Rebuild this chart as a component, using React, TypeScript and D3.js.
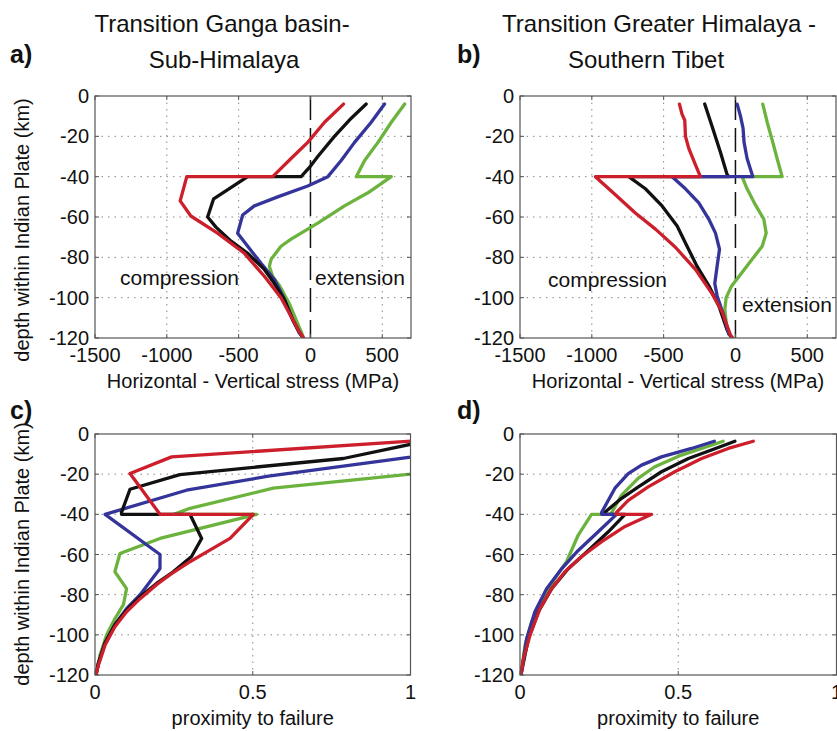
import React from 'react';
import * as d3 from 'd3';

type P = [number, number];

const depthTicks = [0, -20, -40, -60, -80, -100, -120];
const stressTicks = [-1500, -1000, -500, 0, 500];
const stressGrid = [-1000, -500, 500];
const proxTicks = [0, 0.5, 1];
const proxGrid = [0.5];
const depthGrid = [-20, -40, -60, -80, -100];

const titleA = ['Transition Ganga basin-', 'Sub-Himalaya'];
const titleB = ['Transition Greater Himalaya -', 'Southern Tibet'];
const stressLabel = 'Horizontal - Vertical stress (MPa)';
const proxLabel = 'proximity to failure';
const depthLabel = 'depth within Indian Plate (km)';

// Panel a: [stress MPa, depth km]
const aGreen: P[] = [[656,-4],[563,-13],[470,-23],[377,-32],[319,-40],[563,-40],[400,-48],[237,-54.5],[51,-63],[-135,-71],[-205,-74.5],[-274,-81],[-286,-84.5],[-263,-89.5],[-216,-94],[-147,-103],[-88,-113],[-53,-119]];
const aBlue: P[] = [[516,-4],[423,-13],[307,-23],[214,-32],[121,-40],[-19,-44.6],[-228,-50],[-391,-54.5],[-472,-59],[-507,-68],[-437,-74.5],[-344,-83],[-251,-91],[-193,-99],[-123,-111],[-77,-117.6],[-60,-119]];
const aBlack: P[] = [[388,-4],[284,-11],[167,-20],[51,-30],[-7,-35.4],[-65,-40],[-437,-40],[-674,-51],[-716,-60],[-658,-65],[-553,-72],[-437,-78],[-321,-86],[-251,-93],[-181,-101],[-123,-111],[-77,-117],[-60,-119]];
const aRed: P[] = [[230,-4],[98,-13],[-19,-23],[-135,-31],[-263,-40],[-861,-40],[-907,-52],[-833,-59.5],[-647,-68],[-460,-78],[-321,-89.4],[-205,-100],[-123,-111],[-77,-117],[-47,-120]];

// Panel b
const bGreen: P[] = [[190,-4],[221,-13],[260,-23],[290,-31],[325,-40],[46,-40],[81,-46],[139,-54],[197,-61],[214,-68],[186,-74.5],[116,-81],[35,-88.5],[-28,-94.4],[-65,-100],[-74,-106],[-63,-113],[-46,-118]];
const bBlue: P[] = [[12,-4],[35,-10],[53,-16],[60,-23],[81,-31],[121,-40],[-441,-40],[-348,-46],[-255,-53],[-186,-61],[-139,-68],[-111,-76],[-128,-84.5],[-144,-93],[-128,-99],[-81,-109],[-46,-118]];
const bBlack: P[] = [[-214,-4],[-163,-15],[-104,-28],[-58,-39],[-46,-40],[-743,-40],[-627,-46],[-511,-54.5],[-406,-64.5],[-337,-74.5],[-267,-84.5],[-186,-94],[-116,-104],[-58,-116],[-35,-119]];
const bRed: P[] = [[-390,-4],[-372,-9],[-353,-12],[-348,-20],[-325,-26],[-279,-34],[-244,-40],[-975,-40],[-836,-49],[-697,-58],[-557,-66],[-418,-75],[-279,-86],[-163,-98],[-93,-107],[-35,-118.5],[-19,-120]];

// Panel c: [proximity, depth]
const cGreen: P[] = [[1.06,-10],[1.0,-20],[0.565,-27],[0.301,-37],[0.25,-40],[0.512,-40],[0.206,-52],[0.079,-59.5],[0.063,-68.6],[0.1,-77],[0.09,-85],[0.063,-92],[0.037,-100],[0.016,-110],[0.003,-120]];
const cBlue: P[] = [[1.08,-4],[1.0,-11.5],[0.55,-21],[0.29,-28],[0.032,-40],[0.206,-60],[0.206,-67],[0.143,-80],[0.1,-87],[0.063,-95],[0.032,-104],[0.011,-114],[0.003,-120]];
const cBlack: P[] = [[1.02,-4.5],[0.787,-12.2],[0.269,-20.2],[0.111,-27.5],[0.084,-39],[0.084,-40],[0.301,-40],[0.338,-52],[0.306,-61],[0.248,-68.6],[0.195,-74.4],[0.143,-81],[0.1,-87.7],[0.063,-95],[0.032,-104],[0.011,-114],[0.003,-120]];
const cRed: P[] = [[1.02,-3.4],[0.243,-11.4],[0.111,-19.7],[0.206,-40],[0.502,-40],[0.428,-52],[0.364,-57.8],[0.301,-63.6],[0.238,-70],[0.195,-75],[0.143,-82],[0.1,-88.5],[0.063,-96],[0.032,-105],[0.011,-115],[0.003,-120]];

// Panel d
const dGreen: P[] = [[0.642,-3.6],[0.574,-7.2],[0.51,-10.5],[0.426,-16.3],[0.374,-22],[0.321,-30.4],[0.29,-39],[0.29,-40],[0.226,-40],[0.184,-50.3],[0.147,-63.6],[0.11,-72],[0.068,-83.5],[0.037,-93.4],[0.016,-105],[0.003,-120]];
const dBlack: P[] = [[0.679,-3.6],[0.605,-8],[0.532,-12.2],[0.447,-18.8],[0.374,-26.3],[0.321,-32],[0.268,-39],[0.268,-40],[0.332,-40],[0.279,-48.7],[0.216,-58],[0.153,-67],[0.1,-77],[0.058,-88.5],[0.026,-102],[0.003,-120]];
const dBlue: P[] = [[0.614,-3.6],[0.542,-7.2],[0.447,-11.4],[0.384,-15.5],[0.342,-19.7],[0.3,-27],[0.258,-39],[0.258,-40],[0.305,-40],[0.247,-48.7],[0.184,-58],[0.132,-67],[0.084,-77],[0.047,-88.5],[0.021,-102],[0.003,-120]];
const dRed: P[] = [[0.737,-3.6],[0.658,-7.2],[0.574,-12.2],[0.489,-18.8],[0.405,-26.3],[0.342,-33],[0.305,-39],[0.305,-40],[0.416,-40],[0.332,-46],[0.258,-53.6],[0.195,-61],[0.142,-68.6],[0.1,-77],[0.063,-87],[0.032,-100],[0.011,-112],[0.003,-120]];

const RED = '#cc1f2b';
const BLACK = '#111111';
const BLUE = '#34349a';
const GREEN = '#6cb33e';

const FONT = '"Liberation Sans", Arial, Helvetica, sans-serif';

type Series = { data: P[]; color: string };

type PanelProps = {
  id: string;
  left: number; right: number; top: number; bottom: number;
  xDomain: [number, number];
  xTicks: number[];
  xGrid: number[];
  series: Series[];
  dashedZero?: boolean;
  xLabel: string;
  fmt: (v: number) => string;
};

function Panel(p: PanelProps) {
  const x = d3.scaleLinear().domain(p.xDomain).range([p.left, p.right]);
  const y = d3.scaleLinear().domain([0, -120]).range([p.top, p.bottom]);
  const line = d3.line<P>().x(d => x(d[0])).y(d => y(d[1]));
  const tl = 4;
  const midX = (p.left + p.right) / 2;
  return (
    <g>
      <defs>
        <clipPath id={p.id}>
          <rect x={p.left} y={p.top} width={p.right - p.left} height={p.bottom - p.top} />
        </clipPath>
      </defs>
      {depthGrid.map(v => (
        <line key={'hg' + v} x1={p.left} x2={p.right} y1={y(v)} y2={y(v)} stroke="#888" strokeWidth={1} strokeDasharray="1.5,5" />
      ))}
      {p.xGrid.map(v => (
        <line key={'vg' + v} x1={x(v)} x2={x(v)} y1={p.top} y2={p.bottom} stroke="#888" strokeWidth={1} strokeDasharray="1.5,5" />
      ))}
      {p.dashedZero && (
        <line x1={x(0)} x2={x(0)} y1={p.top} y2={p.bottom} stroke="#111" strokeWidth={1.5} strokeDasharray="24,8" />
      )}
      <g clipPath={`url(#${p.id})`}>
        {p.series.map((s, i) => (
          <path key={i} d={line(s.data) || ''} fill="none" stroke={s.color} strokeWidth={3.3} strokeLinejoin="round" strokeLinecap="round" />
        ))}
      </g>
      <rect x={p.left} y={p.top} width={p.right - p.left} height={p.bottom - p.top} fill="none" stroke="#555" strokeWidth={1.2} />
      {p.xTicks.map(v => (
        <g key={'xt' + v}>
          <line x1={x(v)} x2={x(v)} y1={p.bottom} y2={p.bottom - tl} stroke="#555" />
          <line x1={x(v)} x2={x(v)} y1={p.top} y2={p.top + tl} stroke="#555" />
          <text x={x(v)} y={p.bottom + 24} textAnchor="middle" fontSize={20} fontFamily={FONT} fill="#111">{p.fmt(v)}</text>
        </g>
      ))}
      {depthTicks.map(v => (
        <g key={'yt' + v}>
          <line x1={p.left} x2={p.left + tl} y1={y(v)} y2={y(v)} stroke="#555" />
          <line x1={p.right} x2={p.right - tl} y1={y(v)} y2={y(v)} stroke="#555" />
          <text x={p.left - 6} y={y(v) + 7} textAnchor="end" fontSize={20} fontFamily={FONT} fill="#111">{String(v)}</text>
        </g>
      ))}
      <text x={midX} y={p.bottom + 50} textAnchor="middle" fontSize={20} fontFamily={FONT} fill="#111">{p.xLabel}</text>
    </g>
  );
}

export default function App() {
  const fmtStress = (v: number) => String(v);
  const fmtProx = (v: number) => String(v);
  return (
    <svg width={837} height={731} style={{ position: 'absolute', left: 0, top: 0, background: '#fff' }} fontFamily={FONT}>
      <rect x={0} y={0} width={837} height={731} fill="#fff" />
      <text x={222} y={32} textAnchor="middle" fontSize={24} fill="#111">{titleA[0]}</text>
      <text x={224} y={68} textAnchor="middle" fontSize={24} fill="#111">{titleA[1]}</text>
      <text x={659} y={32} textAnchor="middle" fontSize={24} fill="#111">{titleB[0]}</text>
      <text x={646} y={68} textAnchor="middle" fontSize={24} fill="#111">{titleB[1]}</text>
      <text x={10} y={63} fontSize={25} fontWeight="bold" fill="#111">a)</text>
      <text x={457} y={63} fontSize={25} fontWeight="bold" fill="#111">b)</text>
      <text x={10} y={419} fontSize={25} fontWeight="bold" fill="#111">c)</text>
      <text x={457} y={419} fontSize={25} fontWeight="bold" fill="#111">d)</text>

      <Panel id="clipA" left={95} right={411} top={96} bottom={338} xDomain={[-1500, 700]} xTicks={stressTicks} xGrid={stressGrid}
        series={[{ data: aGreen, color: GREEN }, { data: aBlue, color: BLUE }, { data: aBlack, color: BLACK }, { data: aRed, color: RED }]}
        dashedZero xLabel={stressLabel} fmt={fmtStress} />
      <Panel id="clipB" left={520} right={836} top={96} bottom={338} xDomain={[-1500, 700]} xTicks={stressTicks} xGrid={stressGrid}
        series={[{ data: bGreen, color: GREEN }, { data: bBlack, color: BLACK }, { data: bBlue, color: BLUE }, { data: bRed, color: RED }]}
        dashedZero xLabel={stressLabel} fmt={fmtStress} />
      <Panel id="clipC" left={95} right={410.5} top={434} bottom={675} xDomain={[0, 1]} xTicks={proxTicks} xGrid={proxGrid}
        series={[{ data: cGreen, color: GREEN }, { data: cBlue, color: BLUE }, { data: cBlack, color: BLACK }, { data: cRed, color: RED }]}
        xLabel={proxLabel} fmt={fmtProx} />
      <Panel id="clipD" left={520} right={836.5} top={434} bottom={675} xDomain={[0, 1]} xTicks={proxTicks} xGrid={proxGrid}
        series={[{ data: dGreen, color: GREEN }, { data: dBlack, color: BLACK }, { data: dBlue, color: BLUE }, { data: dRed, color: RED }]}
        xLabel={proxLabel} fmt={fmtProx} />

      <text x={120} y={285} fontSize={21} fill="#111">compression</text>
      <text x={315} y={285} fontSize={21} fill="#111">extension</text>
      <text x={548} y={287} fontSize={21} fill="#111">compression</text>
      <text x={742} y={312} fontSize={21} fill="#111">extension</text>

      <text transform="translate(29,230) rotate(-90)" textAnchor="middle" fontSize={20} fill="#111">{depthLabel}</text>
      <text transform="translate(29,554) rotate(-90)" textAnchor="middle" fontSize={20} fill="#111">{depthLabel}</text>
    </svg>
  );
}
